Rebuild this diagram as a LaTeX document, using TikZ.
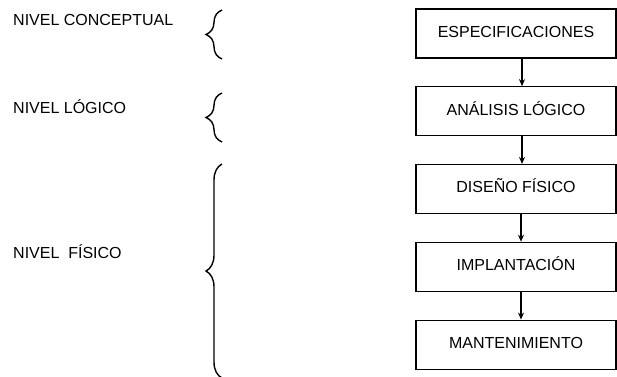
\documentclass[tikz,border=0pt]{standalone}
\usepackage{fontspec}
\setmainfont{Liberation Sans}
\usetikzlibrary{positioning,arrows.meta,decorations.pathreplacing}

\tikzset{
  etapa/.style={draw, line width=1.3pt, minimum width=200pt, minimum height=49pt,
    inner sep=0pt, text height=11.5pt, text depth=4pt, font=\fontsize{16}{19}\selectfont},
  nivel/.style={anchor=west, inner sep=0pt, font=\fontsize{16}{19}\selectfont},
  flujo/.style={line width=1.3pt, -{Stealth[length=7pt,width=6pt]}},
  llave/.style={line width=1.4pt, decorate, decoration={brace, amplitude=16pt}}
}

\begin{document}
\begin{tikzpicture}[x=1pt,y=-1pt]
      \useasboundingbox (0,0) rectangle (617,376);

      % Etapas del diseño
      \node[etapa] (esp) at (516,33.5) {ESPECIFICACIONES};
      \node[etapa, below=27.5pt of esp] (ana) {ANÁLISIS LÓGICO};
      \node[etapa, below=27.5pt of ana] (dis) {DISEÑO FÍSICO};
      \node[etapa, below=27.5pt of dis] (imp) {IMPLANTACIÓN};
      \node[etapa, below=27.5pt of imp] (man) {MANTENIMIENTO};

      \draw[flujo] ([xshift=6pt]esp.south) -- ([xshift=6pt]ana.north);
      \draw[flujo] ([xshift=6pt]ana.south) -- ([xshift=6pt]dis.north);
      \draw[flujo] ([xshift=5pt]dis.south) -- ([xshift=5pt]imp.north);
      \draw[flujo] ([xshift=5pt]imp.south) -- ([xshift=5pt]man.north);

      % Niveles
      \node[nivel] (conc) at (13,20) {NIVEL CONCEPTUAL};
      \node[nivel] (log) at (13,107) {NIVEL LÓGICO};
      \node[nivel] (fis) at (13,252) {NIVEL\ \ FÍSICO};

      % Llaves
      \coordinate (conc1) at (222,10);
      \coordinate (conc2) at (222,59);
      \coordinate (log1) at (222,93);
      \coordinate (log2) at (222,142);
      \coordinate (fis1) at (222,164);
      \coordinate (fis2) at (222,378);
      \draw[llave] (conc2) -- (conc1);
      \draw[llave] (log2) -- (log1);
      \draw[llave] (fis2) -- (fis1);
\end{tikzpicture}
\end{document}
